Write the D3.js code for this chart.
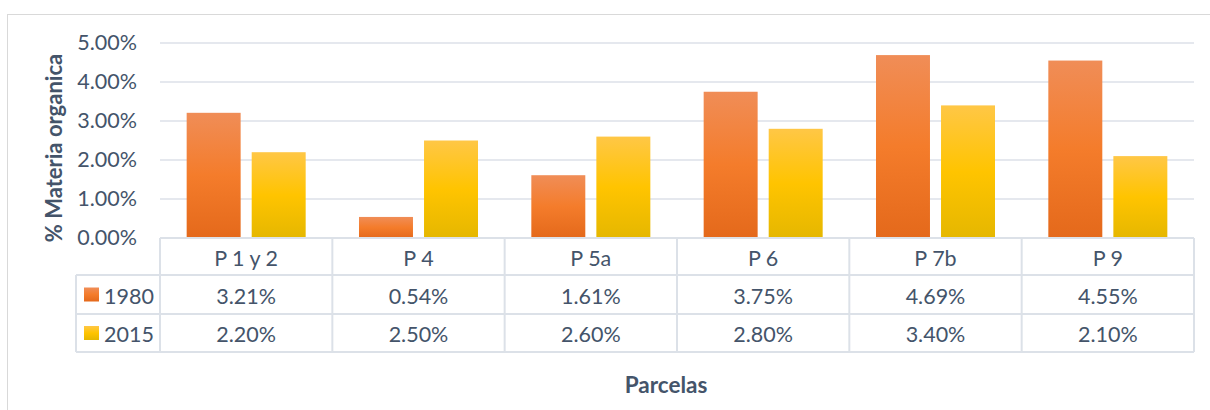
<!DOCTYPE html>
<html>
<head>
<meta charset="utf-8">
<script src="https://cdn.jsdelivr.net/npm/d3@7/dist/d3.min.js"></script>
<style>
  html, body { margin: 0; padding: 0; background: #fff; }
  svg { display: block; font-family: Lato, "Open Sans", sans-serif; }
</style>
</head>
<body>
<svg id="chart" width="1210" height="410"></svg>
<script>
// Organic matter per plot, 1980 vs 2015 (percent)
const categories = ["P 1 y 2", "P 4", "P 5a", "P 6", "P 7b", "P 9"];
const seriesNames = ["1980", "2015"];
const values1980 = [3.21, 0.54, 1.61, 3.75, 4.69, 4.55];
const values2015 = [2.20, 2.50, 2.60, 2.80, 3.40, 2.10];
const yTicks = [0, 1, 2, 3, 4, 5];
const yTitle = "% Materia organica";
const xTitle = "Parcelas";

const seriesValues = [values1980, values2015];

const textColor = "#44546A";
const lineColor = "#DCE1E8";
const fontSize = "21.5px";

const svg = d3.select("#chart");

// gradients for bar fills
const defs = svg.append("defs");
const gradStops = {
  "1980": ["#F08D57", "#F47C2B", "#E4691B"],
  "2015": ["#FFC746", "#FFC400", "#E5B700"]
};
seriesNames.forEach(s => {
  const g = defs.append("linearGradient")
    .attr("id", "grad" + s)
    .attr("x1", 0).attr("y1", 0).attr("x2", 0).attr("y2", 1);
  g.append("stop").attr("offset", "0%").attr("stop-color", gradStops[s][0]);
  g.append("stop").attr("offset", "50%").attr("stop-color", gradStops[s][1]);
  g.append("stop").attr("offset", "100%").attr("stop-color", gradStops[s][2]);
});

// outer chart frame
svg.append("rect")
  .attr("x", 7.5).attr("y", 14.5)
  .attr("width", 1220).attr("height", 420)
  .attr("fill", "none").attr("stroke", "#D9D9D9").attr("stroke-width", 1);

const plotLeft = 160, plotRight = 1194;
const y = d3.scaleLinear().domain([0, 5]).range([238, 43]);
const x = d3.scaleBand().domain(categories).range([plotLeft, plotRight]);
const xSub = d3.scaleBand().domain(seriesNames)
  .range([0, x.bandwidth()]).paddingInner(0.17).paddingOuter(0.41);

// gridlines
svg.append("g").selectAll("line")
  .data(yTicks.filter(t => t > 0))
  .join("line")
  .attr("x1", plotLeft).attr("x2", plotRight)
  .attr("y1", d => y(d)).attr("y2", d => y(d))
  .attr("stroke", lineColor).attr("stroke-width", 1.6);

// y axis labels
const yAxis = svg.append("g")
  .attr("transform", `translate(${plotLeft - 23},0)`)
  .call(d3.axisLeft(y).tickValues(yTicks).tickSize(0).tickPadding(0)
    .tickFormat(d => d3.format(".2f")(d) + "%"));
yAxis.select(".domain").remove();
yAxis.selectAll("text")
  .attr("fill", textColor)
  .style("font-size", fontSize)
  .style("font-family", "Lato, sans-serif");

// y axis title
svg.append("text")
  .attr("transform", "translate(62,148) rotate(-90)")
  .attr("text-anchor", "middle")
  .attr("fill", textColor)
  .style("font-size", "22px")
  .style("font-weight", "bold")
  .text(yTitle);

// bars
const groups = svg.append("g").selectAll("g")
  .data(categories)
  .join("g")
  .attr("transform", d => `translate(${x(d)},0)`);
groups.selectAll("rect")
  .data((d, i) => seriesNames.map((s, k) => ({ s, v: seriesValues[k][i] })))
  .join("rect")
  .attr("x", d => xSub(d.s))
  .attr("width", xSub.bandwidth())
  .attr("y", d => y(d.v))
  .attr("height", d => y(0) - y(d.v))
  .attr("fill", d => `url(#grad${d.s})`);

// data table under the plot
const rowTop = [238, 275, 314];
const rowBottom = 352;
const legendLeft = 76;
const table = svg.append("g")
  .attr("fill", "none").attr("stroke", lineColor).attr("stroke-width", 2);

// horizontal lines
table.append("line").attr("x1", plotLeft).attr("x2", plotRight)
  .attr("y1", rowTop[0]).attr("y2", rowTop[0]);
[rowTop[1], rowTop[2], rowBottom].forEach(yy => {
  table.append("line").attr("x1", legendLeft).attr("x2", plotRight)
    .attr("y1", yy).attr("y2", yy);
});
// vertical lines
table.append("line").attr("x1", legendLeft).attr("x2", legendLeft)
  .attr("y1", rowTop[1]).attr("y2", rowBottom);
categories.forEach(c => {
  table.append("line").attr("x1", x(c)).attr("x2", x(c))
    .attr("y1", rowTop[0]).attr("y2", rowBottom);
});
table.append("line").attr("x1", plotRight).attr("x2", plotRight)
  .attr("y1", rowTop[0]).attr("y2", rowBottom);

const cellText = (tx, ty, str) => svg.append("text")
  .attr("x", tx).attr("y", ty)
  .attr("text-anchor", "middle").attr("dominant-baseline", "central")
  .attr("fill", textColor).style("font-size", fontSize)
  .text(str);

// header row: categories
categories.forEach(c => cellText(x(c) + x.bandwidth() / 2, (rowTop[0] + rowTop[1]) / 2 + 1, c));

// value rows with legend keys
seriesNames.forEach((s, k) => {
  const top = rowTop[k + 1];
  const bottom = k + 2 < rowTop.length ? rowTop[k + 2] : rowBottom;
  const cy = (top + bottom) / 2;
  svg.append("rect")
    .attr("x", 84).attr("y", cy - 7)
    .attr("width", 15).attr("height", 14)
    .attr("fill", `url(#grad${s})`);
  svg.append("text")
    .attr("x", 104).attr("y", cy + 1)
    .attr("dominant-baseline", "central")
    .attr("fill", textColor).style("font-size", fontSize)
    .text(s);
  categories.forEach((c, i) => {
    cellText(x(c) + x.bandwidth() / 2, cy + 1, d3.format(".2f")(seriesValues[k][i]) + "%");
  });
});

// x axis title
svg.append("text")
  .attr("x", 666).attr("y", 384)
  .attr("text-anchor", "middle").attr("dominant-baseline", "central")
  .attr("fill", textColor)
  .style("font-size", "22.5px").style("font-weight", "bold")
  .text(xTitle);
</script>
</body>
</html>
